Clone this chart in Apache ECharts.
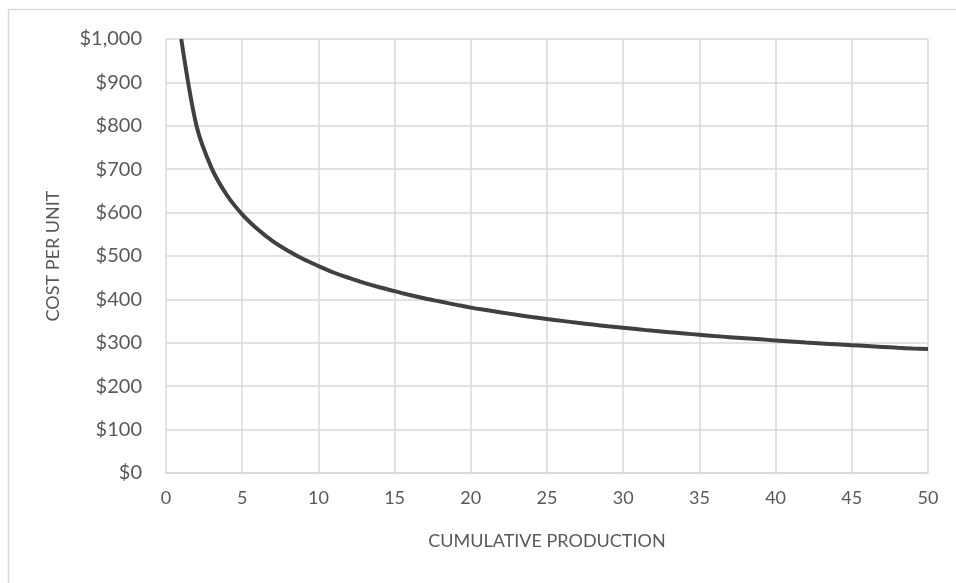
<!DOCTYPE html>
<html>
<head>
<meta charset="utf-8">
<script src="https://cdn.jsdelivr.net/npm/echarts@6/dist/echarts.min.js"></script>
<style>html,body{margin:0;padding:0;background:#fff}#c{width:956px;height:583px}</style>
</head>
<body>
<div id="c"></div>
<script>
const production = [1,2,3,4,5,6,7,8,9,10,11,12,13,14,15,16,17,18,19,20,21,22,23,24,25,26,27,28,29,30,31,32,33,34,35,36,37,38,39,40,41,42,43,44,45,46,47,48,49,50];
const costPerUnit = [1000,800,702,640,596,562,534,512,493,477,462,449.5,438,428,419,410,402,395,388,381,375.5,370,364.5,359.5,355,350.5,346,342,338,334.5,331,327.5,324.5,321.5,318.5,315.5,313,310.5,308,305.5,303,300.5,298.5,296.5,294.5,292.5,290.5,288.5,287,286];
const xTicks = [0,5,10,15,20,25,30,35,40,45,50];
const yTicks = [0,100,200,300,400,500,600,700,800,900,1000];

const font = 'Lato, "Open Sans", sans-serif';
const chart = echarts.init(document.getElementById('c'), null, {renderer:'canvas'});
chart.setOption({
  animation:false,
  backgroundColor:'#fff',
  graphic:[{type:'rect',shape:{x:8.5,y:9.5,width:1200,height:1200},style:{fill:'none',stroke:'#d9d9d9',lineWidth:1.5},silent:true,z:-1}],
  grid:{left:166,top:39,right:28,bottom:110,containLabel:false},
  xAxis:{
    type:'value',min:xTicks[0],max:xTicks[xTicks.length-1],interval:5,
    name:'CUMULATIVE PRODUCTION',nameLocation:'middle',nameGap:59,
    nameTextStyle:{color:'#595959',fontSize:18,fontFamily:font},
    axisLine:{show:true,lineStyle:{color:'#d9d9d9',width:1.5}},
    axisTick:{show:false},
    axisLabel:{color:'#595959',fontSize:18,fontFamily:font,margin:16},
    splitLine:{show:true,lineStyle:{color:'#d9d9d9',width:1.5}}
  },
  yAxis:{
    type:'value',min:yTicks[0],max:yTicks[yTicks.length-1],interval:100,
    name:'COST PER UNIT',nameLocation:'middle',nameGap:104,
    nameTextStyle:{color:'#595959',fontSize:18,fontFamily:font},
    axisLine:{show:false},
    axisTick:{show:false},
    axisLabel:{color:'#595959',fontSize:20,fontFamily:font,margin:24,
      formatter:v=>'$'+v.toLocaleString('en-US')},
    splitLine:{show:true,lineStyle:{color:'#d9d9d9',width:1.5}}
  },
  series:[{
    type:'line',
    data:production.map((x,i)=>[x,costPerUnit[i]]),
    smooth:0.3,
    showSymbol:false,
    lineStyle:{color:'#404040',width:4},
    itemStyle:{color:'#404040'}
  }]
});
</script>
</body>
</html>
